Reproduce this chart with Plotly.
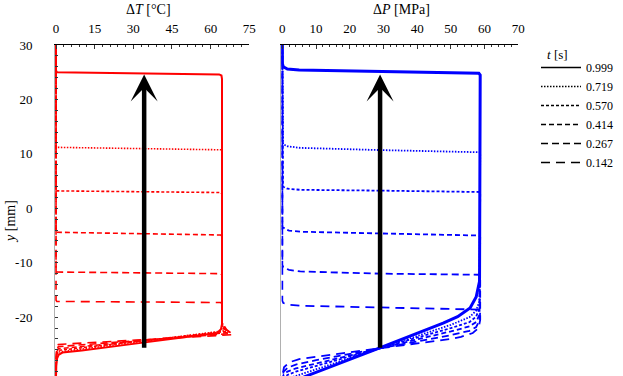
import plotly.graph_objects as go

# ---------------- data ----------------
TIMES = ["0.999", "0.719", "0.570", "0.414", "0.267", "0.142"]
DASHES = ["solid", "1.5px,1.5px", "3px,2px", "5px,3px", "7px,4px", "9px,6px"]

# Temperature change profiles, ΔT [°C] vs y [mm]
DT_X_0999 = [0, 0, 0.4, 20, 45, 63.3, 64.2, 64.4, 64.4, 64.0, 62.5, 50, 30, 10, 2.5, 1.0, 0.4, 0.1, 0]
DT_Y_0999 = [30.8, 25.3, 25.0, 24.9, 24.75, 24.6, 24.4, 23.8, -21.3, -22.2, -22.9, -23.7, -24.9, -26.1, -26.5, -26.9, -27.6, -29.0, -30.8]
DT_X_0719 = [0, 0, 0.3, 30, 64.0, 64.4, 64.4, 64.7, 65.2, 0.9, 0.3, 0.1, 0]
DT_Y_0719 = [30.8, 11.4, 11.2, 11.0, 10.75, 10.5, -21.0, -22.0, -22.5, -26.4, -27.0, -28.2, -30.8]
DT_X_0570 = [0, 0, 0.3, 30, 64.0, 64.4, 64.4, 65.0, 66.0, 0.9, 0.3, 0.1, 0]
DT_Y_0570 = [30.8, 3.4, 3.2, 3.05, 2.9, 2.6, -21.0, -22.0, -22.6, -26.1, -26.7, -27.9, -30.8]
DT_X_0414 = [0, 0, 0.3, 30, 64.0, 64.4, 64.4, 65.4, 66.8, 0.9, 0.3, 0.1, 0]
DT_Y_0414 = [30.8, -4.2, -4.4, -4.6, -4.9, -5.2, -21.0, -22.1, -22.8, -25.8, -26.4, -27.6, -30.8]
DT_X_0267 = [0, 0, 0.3, 30, 64.0, 64.4, 64.4, 65.8, 67.8, 0.9, 0.3, 0.1, 0]
DT_Y_0267 = [30.8, -11.5, -11.7, -11.85, -12.0, -12.3, -21.0, -22.2, -23.0, -25.4, -26.0, -27.2, -30.8]
DT_X_0142 = [0, 0, 0.3, 30, 64.0, 64.4, 64.4, 66.2, 68.9, 0.9, 0.3, 0.1, 0]
DT_Y_0142 = [30.8, -16.9, -17.1, -17.2, -17.3, -17.6, -21.0, -22.3, -23.2, -25.0, -25.6, -26.8, -30.8]

# Pressure change profiles, ΔP [MPa] vs y [mm]
DP_X_0999 = [0, 0, 0.3, 1.5, 5, 20, 40, 58.3, 58.7, 58.7, 58.5, 57.5, 55.7, 52, 47.7, 29.1, 9.2, 6.3]
DP_Y_0999 = [30.8, 26.6, 26.0, 25.6, 25.4, 25.2, 25.0, 24.8, 24.5, -10.5, -13.4, -16.3, -18.3, -19.9, -21.1, -25.6, -30.3, -31.0]
DP_X_0719 = [0, 0, 0.2, 1.5, 5.3, 29, 58.5, 58.7, 58.7, 58.5, 57.5, 55.5, 50, 29, 10, 5, 3]
DP_Y_0719 = [30.8, 12.2, 11.8, 11.4, 11.1, 10.7, 10.3, 10.0, -14.5, -17.0, -18.8, -20.0, -21.4, -25.7, -29.6, -30.5, -31.0]
DP_X_0570 = [0, 0, 0.2, 1.5, 5.3, 29, 58.5, 58.7, 58.7, 58.5, 57.5, 55.5, 50, 29, 10, 4, 1.5, 0.5]
DP_Y_0570 = [30.8, 4.4, 4.0, 3.6, 3.4, 3.25, 3.0, 2.7, -16.0, -18.3, -19.9, -20.9, -22.0, -25.7, -29.0, -30.0, -30.6, -31.2]
DP_X_0414 = [0, 0, 0.9, 2, 5.3, 29, 58.5, 58.7, 58.7, 58.5, 57.5, 55.5, 50, 29, 10, 4, 1.5, 0.4, 0]
DP_Y_0414 = [30.8, -3.4, -3.8, -4.1, -4.3, -4.6, -5.0, -5.3, -17.5, -19.5, -20.9, -21.7, -22.6, -25.7, -28.5, -29.4, -30.0, -30.6, -31.2]
DP_X_0267 = [0, 0, 0.3, 2, 5.3, 29, 58.5, 58.7, 58.7, 58.5, 57.5, 55.5, 50, 29, 10, 4, 1.5, 0.4, 0]
DP_Y_0267 = [30.8, -10.4, -10.85, -11.3, -11.6, -12.0, -12.2, -12.5, -19.0, -20.6, -21.8, -22.5, -23.3, -25.7, -27.9, -28.7, -29.3, -30.0, -31.0]
DP_X_0142 = [0, 0, 0.3, 2, 5.3, 29, 58.5, 58.7, 58.7, 58.2, 56.5, 53, 50, 29, 10, 5, 2, 0.5, 0]
DP_Y_0142 = [30.8, -17.0, -17.4, -17.7, -17.9, -18.2, -18.6, -18.9, -20.5, -22.0, -22.9, -23.6, -24.0, -25.7, -27.2, -27.7, -28.3, -29.2, -30.8]

DT_X = [DT_X_0999, DT_X_0719, DT_X_0570, DT_X_0414, DT_X_0267, DT_X_0142]
DT_Y = [DT_Y_0999, DT_Y_0719, DT_Y_0570, DT_Y_0414, DT_Y_0267, DT_Y_0142]
DP_X = [DP_X_0999, DP_X_0719, DP_X_0570, DP_X_0414, DP_X_0267, DP_X_0142]
DP_Y = [DP_Y_0999, DP_Y_0719, DP_Y_0570, DP_Y_0414, DP_Y_0267, DP_Y_0142]

# Axes
DT_RANGE = [-0.4, 75]
DT_TICKS = [0, 15, 30, 45, 60, 75]
DP_RANGE = [-0.3, 70]
DP_TICKS = [0, 10, 20, 30, 40, 50, 60, 70]
Y_RANGE = [-30.8, 30]
Y_TICKS = [30, 20, 10, 0, -10, -20, -30]
Y_TICK_LABELS = ["30", "20", "10", "0", "-10", "-20", "-30"]

# Arrows (front propagation direction)
ARROW_T_X = 34.2
ARROW_P_X = 29.0
ARROW_TAIL_Y = -25.9
ARROW_TIP_Y = 24.6

# ---------------- figure ----------------
W, H = 623, 376
MT = 45
PH = H - MT
FONT = "Liberation Serif, Times New Roman, DejaVu Serif, serif"
fig = go.Figure()

for i, t in enumerate(TIMES):
    solid = i == 0
    fig.add_trace(go.Scatter(
        x=DT_X[i], y=DT_Y[i], xaxis="x", yaxis="y", mode="lines",
        line=dict(color="#ff0000", width=2 if solid else 1.6, dash=DASHES[i]),
        showlegend=False, hoverinfo="skip"))
    fig.add_trace(go.Scatter(
        x=DP_X[i], y=DP_Y[i], xaxis="x2", yaxis="y2", mode="lines",
        line=dict(color="#0000ff", width=3 if solid else 1.8, dash=DASHES[i]),
        showlegend=False, hoverinfo="skip"))

# legend entries (black samples)
for i, t in enumerate(TIMES):
    fig.add_trace(go.Scatter(
        x=[None], y=[None], xaxis="x", yaxis="y", mode="lines", name=t,
        line=dict(color="black", width=1.4, dash=DASHES[i])))

axis_common = dict(showgrid=False, zeroline=False, showline=True, linecolor="black",
                   linewidth=1, ticks="inside", ticklen=4, tickwidth=1, tickcolor="#333",
                   side="top", tickfont=dict(size=13, family=FONT, color="black"),
                   ticklabelstandoff=6, automargin=False)

fig.update_layout(
    width=W, height=H,
    margin=dict(l=0, r=0, t=MT, b=0, pad=0, autoexpand=False),
    paper_bgcolor="white", plot_bgcolor="white",
    font=dict(family=FONT, size=13, color="black"),
    xaxis=dict(domain=[55 / W, 249.3 / W], range=DT_RANGE, tickvals=DT_TICKS, anchor="y",
               minor=dict(ticks="inside", ticklen=2, dtick=3, tickcolor="#333"), **axis_common),
    xaxis2=dict(domain=[281.3 / W, 518.3 / W], range=DP_RANGE, tickvals=DP_TICKS, anchor="y2",
                minor=dict(ticks="inside", ticklen=2, dtick=2, tickcolor="#333"), **axis_common),
    yaxis=dict(domain=[0, 1], range=Y_RANGE, anchor="x", tickvals=Y_TICKS, ticktext=Y_TICK_LABELS,
               showgrid=False, zeroline=False, showline=True, linecolor="#b0b0b0", linewidth=1,
               ticks="inside", ticklen=3, tickcolor="#333", automargin=False,
               minor=dict(ticks="inside", ticklen=3, dtick=2, tickcolor="#333"),
               tickfont=dict(size=13, family=FONT, color="black"), ticklabelstandoff=19),
    yaxis2=dict(domain=[0, 1], range=Y_RANGE, anchor="x2", showgrid=False, zeroline=False,
                showline=True, linecolor="#b0b0b0", linewidth=1, showticklabels=False, ticks="",
                automargin=False),
    legend=dict(x=536 / W, y=(H - 53) / PH, xanchor="left", yanchor="top",
                bgcolor="rgba(0,0,0,0)", font=dict(size=12, family=FONT),
                itemwidth=40, tracegroupgap=0),
    showlegend=True,
)

fig.add_annotation(text="<i>t</i> [s]", xref="paper", yref="paper",
                   x=557 / W, y=(H - 55) / PH, showarrow=False,
                   font=dict(size=13, family=FONT), xanchor="center", yanchor="middle")
fig.add_annotation(text="Δ<i>T</i> [°C]", xref="paper", yref="paper",
                   x=148 / W, y=(H - 9) / PH, showarrow=False,
                   font=dict(size=14, family=FONT), xanchor="center", yanchor="middle")
fig.add_annotation(text="Δ<i>P</i> [MPa]", xref="paper", yref="paper",
                   x=401 / W, y=(H - 9) / PH, showarrow=False,
                   font=dict(size=14, family=FONT), xanchor="center", yanchor="middle")
fig.add_annotation(text="<i>y</i> [mm]", xref="paper", yref="paper", textangle=-90,
                   x=10 / W, y=(H - 221) / PH, showarrow=False,
                   font=dict(size=14, family=FONT), xanchor="center", yanchor="middle")

for xr, yr, ax_x in (("x", "y", ARROW_T_X), ("x2", "y2", ARROW_P_X)):
    fig.add_annotation(x=ax_x, y=ARROW_TIP_Y, ax=ax_x, ay=ARROW_TAIL_Y,
                       xref=xr, yref=yr, axref=xr, ayref=yr, text="",
                       showarrow=True, arrowhead=3, arrowsize=1.0, arrowwidth=4.5,
                       arrowcolor="black", standoff=0, startstandoff=0)

fig.write_html("out.html", config={"displayModeBar": False, "staticPlot": True},
               post_script="document.body.style.margin='0';document.body.style.padding='0';"
                           "document.documentElement.style.overflow='hidden';")
